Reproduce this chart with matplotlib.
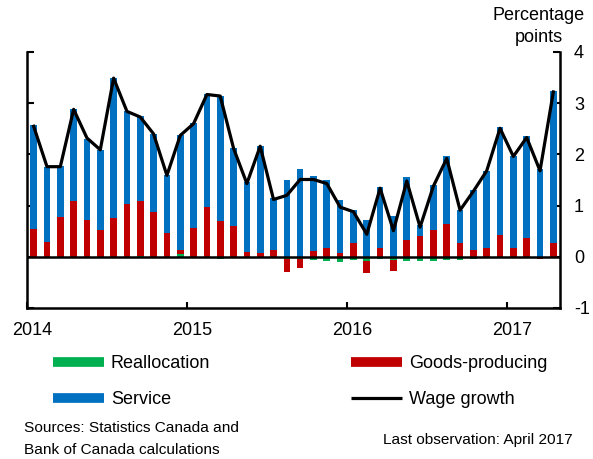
import numpy as np
import matplotlib
matplotlib.use("Agg")
import matplotlib.pyplot as plt
import matplotlib.transforms as mtransforms
from matplotlib.lines import Line2D

plt.rcParams['font.family'] = ['Liberation Sans', 'DejaVu Sans']

# Monthly data, Jan 2014 - Apr 2017 (percentage points)
years = ['2014', '2015', '2016', '2017']
reallocation = [0, 0, 0, -0.02, 0, 0, 0, 0, 0.01, 0, 0, 0.05,
                0, 0, -0.05, 0, 0, -0.02, 0, -0.05, -0.05, -0.07, -0.08, -0.10,
                -0.07, -0.08, -0.05, -0.06, -0.09, -0.08, -0.08, -0.07, -0.07, -0.05, -0.02, 0,
                0, 0, -0.02, 0]
goods = [0.55, 0.28, 0.77, 1.09, 0.71, 0.53, 0.75, 1.03, 1.08, 0.87, 0.47, 0.09,
         0.56, 0.97, 0.69, 0.61, 0.09, 0.07, 0.14, -0.25, -0.16, 0.11, 0.18, 0.08,
         0.26, -0.23, 0.18, -0.22, 0.32, 0.40, 0.53, 0.65, 0.26, 0.13, 0.18, 0.43,
         0.18, 0.37, -0.03, 0.27]
service = [2.02, 1.47, 1.00, 1.80, 1.59, 1.56, 2.75, 1.81, 1.66, 1.52, 1.12, 2.23,
           2.05, 2.20, 2.45, 1.52, 1.37, 2.10, 1.00, 1.50, 1.72, 1.47, 1.32, 1.02,
           0.66, 0.72, 1.19, 0.80, 1.23, 0.22, 0.87, 1.31, 0.65, 1.17, 1.50, 2.10,
           1.79, 1.98, 1.71, 2.97]
wage_growth = [2.55, 1.76, 1.76, 2.88, 2.32, 2.09, 3.49, 2.84, 2.73, 2.40, 1.59, 2.37,
               2.60, 3.17, 3.14, 2.12, 1.43, 2.16, 1.12, 1.20, 1.51, 1.51, 1.43, 0.97,
               0.88, 0.44, 1.34, 0.51, 1.48, 0.58, 1.38, 1.92, 0.91, 1.28, 1.68, 2.51,
               1.96, 2.33, 1.68, 3.22]

GREEN = '#00B050'
RED = '#C00000'
BLUE = '#0070C0'

fig = plt.figure(figsize=(5.93, 4.59), dpi=100)
ax = fig.add_axes([27 / 593, 151 / 459, 533 / 593, 256 / 459])

x = np.arange(len(wage_growth)) + 0.5
pos_bottom = np.zeros(len(x))
neg_bottom = np.zeros(len(x))
for vals, col in [(reallocation, GREEN), (goods, RED), (service, BLUE)]:
    v = np.array(vals)
    bottom = np.where(v >= 0, pos_bottom, neg_bottom)
    ax.bar(x, v, width=0.5, bottom=bottom, color=col, edgecolor='none', zorder=2)
    pos_bottom += np.where(v >= 0, v, 0)
    neg_bottom += np.where(v < 0, v, 0)

ax.axhline(0, color='black', lw=1.8, zorder=3)
ax.plot(x, wage_growth, color='black', lw=2.3, zorder=4)

ax.set_xlim(0, len(x))
ax.set_ylim(-1, 4)

for s in ['left', 'right', 'bottom']:
    ax.spines[s].set_linewidth(1.8)
ax.spines['top'].set_visible(False)

ax.set_xticks(np.arange(len(years)) * 12)
ax.set_xticklabels(years)
ax.set_yticks(np.arange(-1, 5))
ax.set_yticklabels([str(v) for v in range(-1, 5)])
ax.tick_params(axis='x', direction='in', length=4, width=1.5, labelsize=13, pad=10)
ax.tick_params(axis='y', direction='in', length=5, width=1.5, labelsize=13,
               left=True, right=True, labelleft=False, labelright=True, pad=10)

# year labels sit a little right of their ticks
shift = mtransforms.ScaledTranslation(5.5 / 100, 0, fig.dpi_scale_trans)
for lab in ax.get_xticklabels():
    lab.set_transform(lab.get_transform() + shift)

fig.text(539 / 593, 1 - 15 / 459, 'Percentage', ha='center', va='center', fontsize=13)
fig.text(539 / 593, 1 - 38 / 459, 'points', ha='center', va='center', fontsize=13)

def handle(col, lw):
    return Line2D([0], [0], color=col, lw=lw, solid_capstyle='butt')

leg_kw = dict(frameon=False, fontsize=13, handlelength=2.85, handletextpad=0.35,
              labelspacing=1.05, borderaxespad=0, borderpad=0, loc='upper left')
fig.legend([handle(GREEN, 7), handle(BLUE, 7)], ['Reallocation', 'Service'],
           bbox_to_anchor=(53 / 593, 1 - 355 / 459), **leg_kw)
fig.legend([handle(RED, 7), handle('black', 2.3)], ['Goods-producing', 'Wage growth'],
           bbox_to_anchor=(351 / 593, 1 - 355 / 459), **leg_kw)

fig.text(24 / 593, 1 - 428 / 459, 'Sources: Statistics Canada and', ha='left', va='center',
         fontsize=11.1)
fig.text(24 / 593, 1 - 450 / 459, 'Bank of Canada calculations', ha='left', va='center',
         fontsize=11.1)
fig.text(573 / 593, 1 - 440 / 459, 'Last observation: April 2017', ha='right', va='center',
         fontsize=11.1)

fig.savefig('out.png', dpi=100)
